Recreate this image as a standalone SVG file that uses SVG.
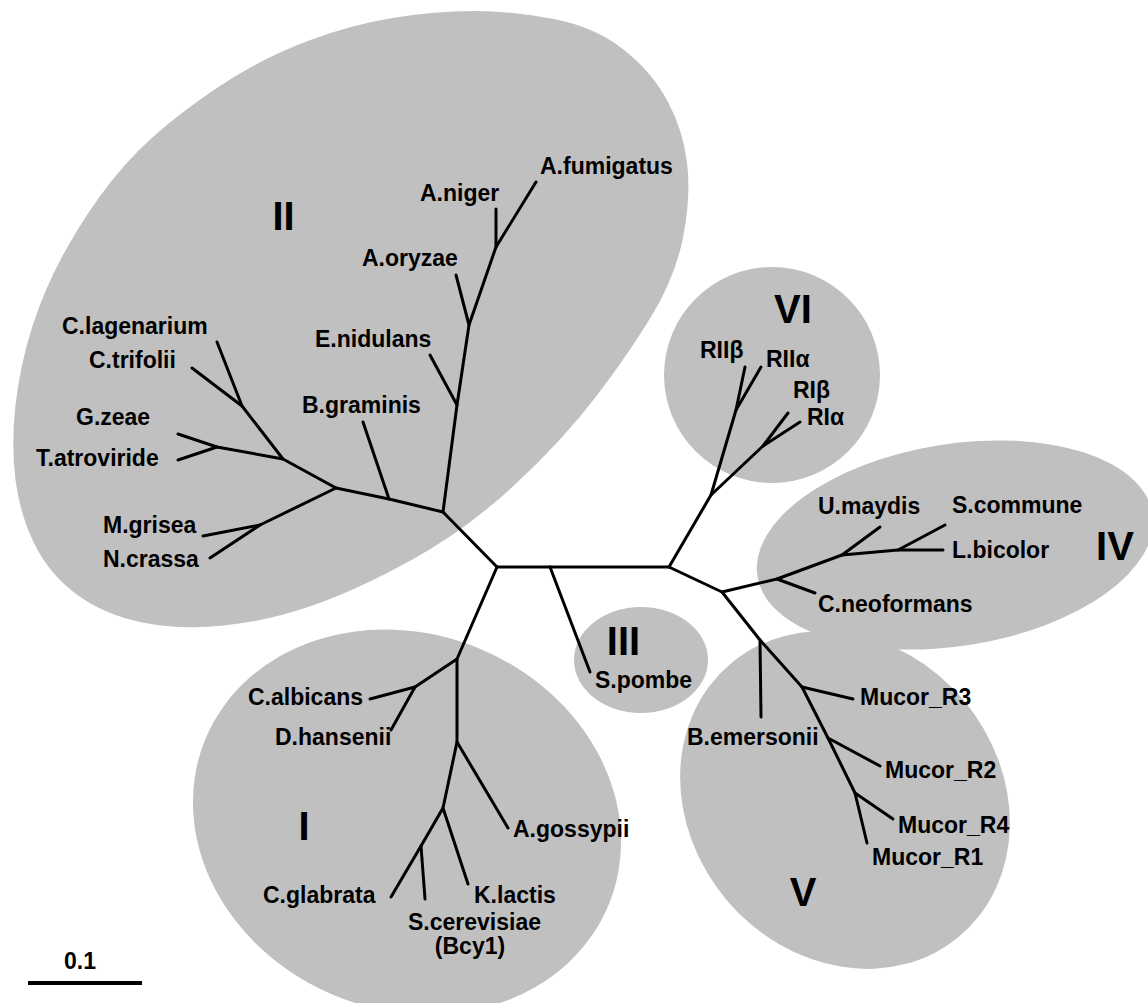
<svg xmlns="http://www.w3.org/2000/svg" width="1148" height="1003" viewBox="0 0 1148 1003">
<style>
.cl{fill:#c0c0c0;stroke:none}
.t{font-family:"Liberation Sans",Arial,sans-serif;font-weight:bold;font-size:23px;fill:#000}
.n{font-family:"Liberation Sans",Arial,sans-serif;font-weight:bold;font-size:40px;fill:#000;text-anchor:middle}
.br{stroke:#000;stroke-width:3;fill:none;stroke-linecap:round;stroke-linejoin:round}
</style>
<rect width="1148" height="1003" fill="#fff"/>
<g id="clusters">
<g id="cluster-II"><path class="cl" d="M474,11 Q513,11 554,19 Q595,27 623.5,49.5 Q652,72 667.5,101 Q683,130 687,162.5 Q691,195 683.5,235 Q676,275 653,313.5 Q630,352 596.5,396 Q563,440 514.5,485 Q466,530 411.5,560 Q357,590 312.5,605.5 Q268,621 224,625.5 Q180,630 142.5,622.5 Q105,615 77.5,595 Q50,575 35,545 Q20,515 15.5,480 Q11,445 15.5,405 Q20,365 32.5,326 Q45,287 66,249.5 Q87,212 111.5,181 Q136,150 168,124 Q200,98 234,77 Q268,56 309,40.5 Q350,25 392.5,18 Q435,11 474,11 Z"/><text class="n" x="283.5" y="230">II</text></g>
<g id="cluster-I"><ellipse class="cl" cx="407" cy="822" rx="218" ry="188" transform="rotate(22 407 822)"/><text class="n" x="304" y="840">I</text></g>
<g id="cluster-III"><ellipse class="cl" cx="641" cy="660" rx="67" ry="53"/><text class="n" x="623.5" y="655">III</text></g>
<g id="cluster-IV"><ellipse class="cl" cx="955" cy="545" rx="200" ry="101" transform="rotate(-9 955 545)"/><text class="n" x="1115" y="560">IV</text></g>
<g id="cluster-V"><ellipse class="cl" cx="845" cy="800" rx="178" ry="155" transform="rotate(50 845 800)"/><text class="n" x="803" y="906">V</text></g>
<g id="cluster-VI"><circle class="cl" cx="772" cy="375" r="108"/><text class="n" x="793" y="323">VI</text></g>
</g>
<g id="connectors" class="br">
<path d="M497,567 H669"/>
<path d="M550,567 L590,672"/>
<path d="M497,567 L443,512"/>
<path d="M497,567 L457,659"/>
<path d="M443,512 L457,405 L469,325 L496,247 L536,182"/>
<path d="M457,405 L430,355"/>
<path d="M469,325 L456,275"/>
<path d="M496,247 L496,209"/>
<path d="M443,512 L389,499 L336,488 L283,459 L242,406 L217,342"/>
<path d="M389,499 L363,422"/>
<path d="M336,488 L260,525 L210,558"/>
<path d="M260,525 L203,536"/>
<path d="M283,459 L217,447 L178,434"/>
<path d="M217,447 L178,460"/>
<path d="M242,406 L192,368"/>
<path d="M457,659 L415,687 L370,699"/>
<path d="M415,687 L391,730"/>
<path d="M457,659 L457,742 L508,828"/>
<path d="M457,742 L443,808 L468,884"/>
<path d="M443,808 L421,846 L391,897"/>
<path d="M421,846 L425,899"/>
<path d="M669,567 L711,495 L736,410 L745,367"/>
<path d="M736,410 L761,367"/>
<path d="M711,495 L763,446 L788,413"/>
<path d="M763,446 L800,422"/>
<path d="M669,567 L722,592 L777,579 L842,555 L898,550 L943,550"/>
<path d="M777,579 L815,593"/>
<path d="M842,555 L880,527"/>
<path d="M898,550 L945,525"/>
<path d="M722,592 L760,640 L802,687 L828,738 L855,793 L867,843"/>
<path d="M760,640 L761,717"/>
<path d="M802,687 L853,699"/>
<path d="M828,738 L880,766"/>
<path d="M855,793 L893,819"/>
<path d="M28,983 H142" stroke-width="4" stroke-linecap="butt"/>
</g>
<g id="labels">
<g id="A.fumigatus"><text class="t" x="540" y="174">A.fumigatus</text></g>
<g id="A.niger"><text class="t" x="420" y="201">A.niger</text></g>
<g id="A.oryzae"><text class="t" x="362" y="266">A.oryzae</text></g>
<g id="E.nidulans"><text class="t" x="315" y="347">E.nidulans</text></g>
<g id="B.graminis"><text class="t" x="302" y="413">B.graminis</text></g>
<g id="C.lagenarium"><text class="t" x="62" y="334">C.lagenarium</text></g>
<g id="C.trifolii"><text class="t" x="89" y="368">C.trifolii</text></g>
<g id="G.zeae"><text class="t" x="76" y="425">G.zeae</text></g>
<g id="T.atroviride"><text class="t" x="36" y="466">T.atroviride</text></g>
<g id="M.grisea"><text class="t" x="103" y="533">M.grisea</text></g>
<g id="N.crassa"><text class="t" x="103" y="567">N.crassa</text></g>
<g id="C.albicans"><text class="t" x="248" y="705">C.albicans</text></g>
<g id="D.hansenii"><text class="t" x="275" y="745">D.hansenii</text></g>
<g id="A.gossypii"><text class="t" x="513" y="837">A.gossypii</text></g>
<g id="C.glabrata"><text class="t" x="263" y="903">C.glabrata</text></g>
<g id="K.lactis"><text class="t" x="474" y="903">K.lactis</text></g>
<g id="S.cerevisiae"><text class="t" x="408" y="930">S.cerevisiae</text><text class="t" x="470" y="954" text-anchor="middle">(Bcy1)</text></g>
<g id="S.pombe"><text class="t" x="595" y="688">S.pombe</text></g>
<g id="U.maydis"><text class="t" x="818" y="514">U.maydis</text></g>
<g id="S.commune"><text class="t" x="952" y="513">S.commune</text></g>
<g id="L.bicolor"><text class="t" x="952" y="558">L.bicolor</text></g>
<g id="C.neoformans"><text class="t" x="818" y="612">C.neoformans</text></g>
<g id="Mucor_R3"><text class="t" x="860" y="705">Mucor_R3</text></g>
<g id="Mucor_R2"><text class="t" x="885" y="778">Mucor_R2</text></g>
<g id="Mucor_R4"><text class="t" x="898" y="833">Mucor_R4</text></g>
<g id="Mucor_R1"><text class="t" x="872" y="865">Mucor_R1</text></g>
<g id="B.emersonii"><text class="t" x="687" y="745">B.emersonii</text></g>
<g id="RIIb"><text class="t" x="700" y="358">RIIβ</text></g>
<g id="RIIa"><text class="t" x="766" y="367">RIIα</text></g>
<g id="RIb"><text class="t" x="793" y="398">RIβ</text></g>
<g id="RIa"><text class="t" x="807" y="425">RIα</text></g>
<g id="scale"><text class="t" x="64" y="969" font-size="24">0.1</text></g>
</g>
</svg>
